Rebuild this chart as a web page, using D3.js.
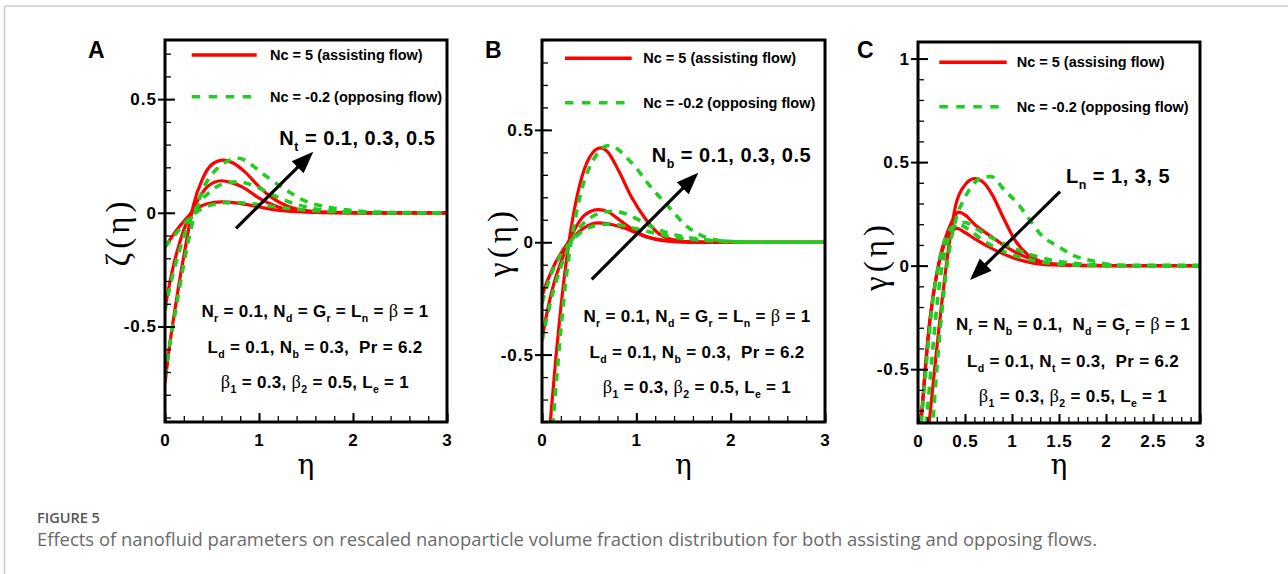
<!DOCTYPE html>
<html>
<head>
  <script src="https://d3js.org/d3.v7.min.js"></script>
  <style>
    body { margin: 0; background: #fff; }
    .tick text { font-family: "Liberation Sans", Arial, sans-serif; font-weight: bold; font-size: 17px; letter-spacing: 1px; fill: #000; }
    .lbl { font-family: "Liberation Sans", Arial, sans-serif; font-weight: bold; fill: #000; white-space: pre; }
    .greek { font-family: "Liberation Serif", "DejaVu Serif", serif; font-weight: normal; }
    .axt { font-family: "DejaVu Serif", "Liberation Serif", serif; font-weight: normal; fill: #000; }
    .ayt { font-family: "Liberation Serif", "DejaVu Serif", serif; font-weight: normal; fill: #000; }
  </style>
</head>
<body>
<div id="chart"></div>
<script>
/*
  DATA: curves, [eta, value]
*/
// panel A, zeta(eta), Nt = 0.1, 0.3, 0.5
const aRed01 = [[0,-0.15],[0.05,-0.12],[0.1,-0.09],[0.15,-0.062],[0.2,-0.038],[0.28,0],[0.35,0.022],[0.45,0.04],[0.6,0.048],[0.75,0.044],[0.9,0.034],[1.05,0.022],[1.2,0.012],[1.4,0.005],[1.7,0.001],[2.2,0],[3,0]];
const aRed03 = [[0,-0.42],[0.05,-0.31],[0.1,-0.215],[0.15,-0.14],[0.2,-0.075],[0.28,0],[0.35,0.055],[0.45,0.115],[0.6,0.141],[0.7,0.134],[0.83,0.112],[1.0,0.065],[1.19,0.028],[1.36,0.01],[1.6,0.002],[2,0],[3,0]];
const aRed05 = [[0,-0.75],[0.05,-0.58],[0.1,-0.44],[0.15,-0.31],[0.2,-0.19],[0.25,-0.075],[0.3,0.03],[0.4,0.15],[0.5,0.213],[0.62,0.232],[0.72,0.22],[0.85,0.18],[1.0,0.115],[1.1,0.078],[1.2,0.05],[1.3,0.03],[1.5,0.01],[1.8,0.002],[2.2,0],[3,0]];
const aGrn01 = [[0,-0.15],[0.1,-0.1],[0.2,-0.05],[0.3,-0.008],[0.4,0.02],[0.5,0.035],[0.65,0.045],[0.8,0.044],[1.0,0.036],[1.3,0.02],[1.6,0.009],[2.0,0.002],[2.5,0],[3,0]];
const aGrn03 = [[0,-0.43],[0.05,-0.33],[0.1,-0.245],[0.2,-0.105],[0.3,-0.005],[0.4,0.06],[0.5,0.1],[0.6,0.125],[0.78,0.136],[0.97,0.115],[1.15,0.078],[1.36,0.042],[1.57,0.02],[1.8,0.008],[2.2,0.001],[3,0]];
const aGrn05 = [[0,-0.72],[0.05,-0.58],[0.1,-0.46],[0.15,-0.34],[0.2,-0.225],[0.3,-0.03],[0.4,0.1],[0.5,0.17],[0.6,0.21],[0.78,0.24],[0.97,0.196],[1.08,0.16],[1.29,0.1],[1.5,0.05],[1.72,0.026],[1.93,0.013],[2.14,0.005],[2.5,0.001],[3,0]];

// panel B, gamma(eta), Nb = 0.1, 0.3, 0.5
const bRed01 = [[0,-0.24],[0.05,-0.18],[0.1,-0.13],[0.15,-0.085],[0.2,-0.05],[0.28,0],[0.35,0.03],[0.45,0.065],[0.6,0.086],[0.75,0.078],[0.88,0.062],[1.0,0.042],[1.1,0.025],[1.3,0.008],[1.5,0.002],[1.8,0],[3,0]];
const bRed03 = [[0,-0.43],[0.05,-0.32],[0.1,-0.225],[0.15,-0.15],[0.2,-0.09],[0.28,0],[0.35,0.06],[0.45,0.12],[0.6,0.145],[0.7,0.135],[0.84,0.093],[1.02,0.041],[1.2,0.013],[1.4,0.003],[1.7,0],[3,0]];
const bRed05 = [[0,-1.25],[0.05,-1.0],[0.1,-0.74],[0.15,-0.5],[0.2,-0.29],[0.25,-0.11],[0.3,0.04],[0.35,0.16],[0.4,0.255],[0.5,0.375],[0.62,0.42],[0.7,0.4],[0.81,0.32],[0.95,0.2],[1.09,0.108],[1.23,0.041],[1.37,0.013],[1.55,0.002],[1.8,0],[3,0]];
const bGrn01 = [[0,-0.27],[0.05,-0.2],[0.1,-0.14],[0.2,-0.055],[0.3,-0.002],[0.4,0.04],[0.5,0.065],[0.65,0.08],[0.8,0.078],[1.0,0.06],[1.2,0.04],[1.4,0.022],[1.6,0.012],[1.9,0.004],[2.3,0],[3,0]];
const bGrn03 = [[0,-0.44],[0.05,-0.34],[0.1,-0.25],[0.2,-0.11],[0.3,-0.005],[0.4,0.065],[0.5,0.105],[0.6,0.128],[0.75,0.138],[0.9,0.125],[1.0,0.105],[1.16,0.07],[1.34,0.04],[1.51,0.024],[1.73,0.011],[1.94,0.004],[2.3,0],[3,0]];
const bGrn05 = [[0,-1.35],[0.05,-1.12],[0.1,-0.88],[0.15,-0.63],[0.2,-0.39],[0.25,-0.18],[0.3,-0.02],[0.35,0.1],[0.4,0.2],[0.5,0.33],[0.58,0.39],[0.7,0.43],[0.8,0.415],[0.9,0.375],[0.98,0.34],[1.12,0.263],[1.25,0.2],[1.37,0.145],[1.51,0.08],[1.66,0.036],[1.8,0.014],[1.94,0.005],[2.2,0],[3,0]];

// panel C, gamma(eta), Ln = 1, 3, 5
const cRed1 = [[0,-1.3],[0.05,-1.1],[0.1,-0.85],[0.125,-0.73],[0.15,-0.62],[0.2,-0.4],[0.25,-0.19],[0.3,0.0],[0.35,0.16],[0.4,0.29],[0.5,0.39],[0.6,0.42],[0.7,0.4],[0.78,0.35],[0.92,0.22],[1.03,0.124],[1.17,0.052],[1.31,0.019],[1.53,0.003],[1.8,0],[3,0]];
const cRed3 = [[0,-0.95],[0.036,-0.73],[0.08,-0.48],[0.124,-0.27],[0.16,-0.15],[0.2,-0.04],[0.25,0.07],[0.32,0.17],[0.38,0.23],[0.43,0.258],[0.5,0.245],[0.6,0.2],[0.78,0.14],[0.96,0.085],[1.14,0.043],[1.31,0.019],[1.5,0.006],[1.8,0.001],[2.1,0],[3,0]];
const cRed5 = [[0,-0.97],[0.036,-0.74],[0.08,-0.49],[0.124,-0.28],[0.16,-0.15],[0.2,-0.04],[0.25,0.06],[0.3,0.125],[0.35,0.163],[0.41,0.18],[0.5,0.16],[0.6,0.13],[0.82,0.075],[1.03,0.035],[1.24,0.011],[1.45,0.003],[1.8,0],[3,0]];
const cGrn1 = [[0,-1.6],[0.07,-1.25],[0.14,-0.85],[0.16,-0.74],[0.2,-0.5],[0.25,-0.24],[0.3,-0.03],[0.35,0.12],[0.4,0.22],[0.5,0.33],[0.6,0.4],[0.7,0.428],[0.78,0.43],[0.92,0.364],[1.06,0.3],[1.19,0.22],[1.31,0.148],[1.49,0.093],[1.66,0.048],[1.88,0.02],[2.05,0.005],[2.3,0],[3,0]];
const cGrn3 = [[0,-1.2],[0.05,-0.95],[0.1,-0.7],[0.15,-0.44],[0.2,-0.2],[0.25,-0.02],[0.3,0.09],[0.35,0.16],[0.42,0.2],[0.5,0.208],[0.6,0.185],[0.7,0.155],[0.83,0.124],[0.94,0.1],[1.15,0.06],[1.3,0.04],[1.5,0.02],[1.8,0.006],[2.1,0.001],[3,0]];
const cGrn5 = [[0,-0.98],[0.05,-0.68],[0.1,-0.42],[0.15,-0.2],[0.2,-0.04],[0.25,0.07],[0.3,0.14],[0.38,0.19],[0.45,0.196],[0.55,0.17],[0.7,0.12],[0.9,0.07],[1.1,0.038],[1.3,0.018],[1.6,0.005],[2.0,0],[3,0]];

// ticks
const yMajorAB = [-0.5, 0, 0.5];
const yMajorC = [-0.5, 0, 0.5, 1];
const xMajorAB = [0, 1, 2, 3];
const xMajorC = [0, 0.5, 1, 1.5, 2, 2.5, 3];

// texts
const legendRed = ["Nc = 5 (assisting flow)", "Nc = 5 (assisting flow)", "Nc = 5 (assising flow)"];
const legendGrn = "Nc = -0.2 (opposing flow)";
const paramsAB = ["N_{r} = 0.1, N_{d} = G_{r} = L_{n} = β = 1", "L_{d} = 0.1, N_{b} = 0.3,  Pr = 6.2", "β_{1} = 0.3, β_{2} = 0.5, L_{e} = 1"];
const paramsC = ["N_{r} = N_{b} = 0.1,  N_{d} = G_{r} = β = 1", "L_{d} = 0.1, N_{t} = 0.3,  Pr = 6.2", "β_{1} = 0.3, β_{2} = 0.5, L_{e} = 1"];

const RED = "#ff0000", GREEN = "#22cc22";

/*
  SVG
*/
const width = 1288, height = 574;
const svg = d3.select("#chart").append("svg")
  .attr("width", width).attr("height", height);

// page frame
svg.append("line").attr("x1", 4.5).attr("x2", width).attr("y1", 6).attr("y2", 6)
  .attr("stroke", "#cccccc").attr("stroke-width", 1.5);
svg.append("line").attr("x1", 4.5).attr("x2", 4.5).attr("y1", 6).attr("y2", height)
  .attr("stroke", "#cccccc").attr("stroke-width", 1.5);

// text with _{sub} and greek beta
function richText(sel, str, size) {
  const parts = str.split(/(_\{[^}]*\}|β)/).filter(s => s.length);
  let shifted = false;
  parts.forEach(p => {
    const t = sel.append("tspan");
    if (p.startsWith("_{")) {
      t.text(p.slice(2, -1)).attr("font-size", size * 0.62).attr("dy", size * 0.3);
      shifted = true;
    } else {
      if (shifted) { t.attr("dy", -size * 0.3); shifted = false; }
      t.text(p);
      if (p === "β") t.attr("class", "greek").attr("font-size", size * 1.08);
    }
  });
}

function arrow(g, x1, y1, x2, y2) {
  const dx = x2 - x1, dy = y2 - y1, L = Math.hypot(dx, dy);
  const ux = dx / L, uy = dy / L, hl = 22, hw = 8.5;
  const bx = x2 - ux * hl, by = y2 - uy * hl;
  g.append("line").attr("x1", x1).attr("y1", y1).attr("x2", bx + ux * 2).attr("y2", by + uy * 2)
    .attr("stroke", "#000").attr("stroke-width", 3.2);
  g.append("path")
    .attr("d", `M${x2},${y2}L${bx - uy * hw},${by + ux * hw}L${bx + uy * hw},${by - ux * hw}Z`)
    .attr("fill", "#000");
}

const panels = [
  {id: "A", left: 165, right: 447, top: 40, bottom: 422, yDomain: [-0.92, 0.76],
   yMajor: yMajorAB, yMinor: d3.range(-9, 8).map(i => i / 10),
   xMajor: xMajorAB, xMinor: d3.range(0, 16).map(i => i / 5),
   red: [aRed01, aRed03, aRed05], green: [aGrn01, aGrn03, aGrn05],
   letter: [88, 58], yLabel: "ζ(η)", yLabelPos: [119, 232],
   legX: [191.7, 256.7, 270], legY: [55, 96.7], legRed: legendRed[0],
   tag: "N_{t} = 0.1, 0.3, 0.5", tagPos: [279.3, 145],
   arrow: [236, 228.3, 313.3, 151.7],
   params: paramsAB, paramX: 315, paramY: [316.7, 353.3, 388.3]},
  {id: "B", left: 542, right: 825, top: 40, bottom: 422, yDomain: [-0.8, 0.9],
   yMajor: yMajorAB, yMinor: d3.range(-8, 10).map(i => i / 10),
   xMajor: xMajorAB, xMinor: d3.range(0, 16).map(i => i / 5),
   red: [bRed01, bRed03, bRed05], green: [bGrn01, bGrn03, bGrn05],
   letter: [485, 58], yLabel: "γ(η)", yLabelPos: [501, 242],
   legX: [565, 631.7, 643.3], legY: [58.3, 102.7], legRed: legendRed[1],
   tag: "N_{b} = 0.1, 0.3, 0.5", tagPos: [651.7, 161.7],
   arrow: [591.7, 279.3, 698.3, 172.7],
   params: paramsAB, paramX: 697, paramY: [321.7, 358.3, 393.3]},
  {id: "C", left: 918, right: 1200, top: 42, bottom: 423, yDomain: [-0.76, 1.08],
   yMajor: yMajorC, yMinor: d3.range(-7, 11).map(i => i / 10),
   xMajor: xMajorC, xMinor: d3.range(0, 31).map(i => i / 10),
   red: [cRed1, cRed3, cRed5], green: [cGrn1, cGrn3, cGrn5],
   letter: [857, 58], yLabel: "γ(η)", yLabelPos: [877, 256],
   legX: [939.3, 1006.7, 1016.7], legY: [62.3, 106.7], legRed: legendRed[2],
   tag: "L_{n} = 1, 3, 5", tagPos: [1066, 182.7],
   arrow: [1060, 191.7, 970, 280],
   params: paramsC, paramX: 1073, paramY: [330, 366.7, 401.7]}
];

panels.forEach(p => {
  const g = svg.append("g");
  const xScale = d3.scaleLinear().domain([0, 3]).range([p.left, p.right]);
  const yScale = d3.scaleLinear().domain(p.yDomain).range([p.bottom, p.top]);

  g.append("clipPath").attr("id", "clip" + p.id).append("rect")
    .attr("x", p.left).attr("y", p.top)
    .attr("width", p.right - p.left).attr("height", p.bottom - p.top);

  const line = d3.line()
    .x(d => xScale(d[0])).y(d => yScale(d[1]))
    .curve(d3.curveMonotoneX);

  const curves = g.append("g").attr("clip-path", `url(#clip${p.id})`);
  p.red.forEach(s => curves.append("path").attr("d", line(s))
    .attr("fill", "none").attr("stroke", RED).attr("stroke-width", 3.2));
  p.green.forEach(s => curves.append("path").attr("d", line(s))
    .attr("fill", "none").attr("stroke", GREEN).attr("stroke-width", 3.6)
    .attr("stroke-dasharray", "8,7"));

  // minor ticks (inward)
  g.append("g").attr("transform", `translate(${p.left},0)`)
    .call(d3.axisLeft(yScale).tickValues(p.yMinor).tickSize(-6).tickFormat(""))
    .call(a => a.select(".domain").remove())
    .selectAll("line").attr("stroke-width", 1.3);
  g.append("g").attr("transform", `translate(0,${p.bottom})`)
    .call(d3.axisBottom(xScale).tickValues(p.xMinor).tickSize(-6).tickFormat(""))
    .call(a => a.select(".domain").remove())
    .selectAll("line").attr("stroke-width", 1.3);

  // major ticks with labels
  g.append("g").attr("transform", `translate(${p.left},0)`)
    .call(d3.axisLeft(yScale).tickValues(p.yMajor).tickSize(-10).tickPadding(8).tickFormat(d => String(d)))
    .call(a => a.select(".domain").remove())
    .call(a => a.selectAll(".tick line").attr("x1", -7).attr("stroke-width", 2));
  g.append("g").attr("transform", `translate(0,${p.bottom})`)
    .call(d3.axisBottom(xScale).tickValues(p.xMajor).tickSize(-9).tickPadding(12).tickFormat(d => String(d)))
    .call(a => a.select(".domain").remove())
    .call(a => a.selectAll(".tick line").attr("stroke-width", 2));

  // box
  g.append("rect").attr("x", p.left).attr("y", p.top)
    .attr("width", p.right - p.left).attr("height", p.bottom - p.top)
    .attr("fill", "none").attr("stroke", "#000").attr("stroke-width", 3);

  // panel letter
  g.append("text").attr("class", "lbl").attr("x", p.letter[0]).attr("y", p.letter[1])
    .attr("font-size", 23).text(p.id);

  // axis titles
  g.append("text").attr("class", "ayt")
    .attr("transform", `translate(${p.yLabelPos[0]},${p.yLabelPos[1]}) rotate(-90)`)
    .attr("text-anchor", "middle").attr("dy", "0.3em")
    .attr("font-size", 33).attr("letter-spacing", 4).text(p.yLabel);
  g.append("text").attr("class", "axt")
    .attr("x", (p.left + p.right) / 2).attr("y", 474)
    .attr("text-anchor", "middle").attr("font-size", 28).text("η");

  // legend
  g.append("line").attr("x1", p.legX[0]).attr("x2", p.legX[1]).attr("y1", p.legY[0]).attr("y2", p.legY[0])
    .attr("stroke", RED).attr("stroke-width", 3.4);
  g.append("line").attr("x1", p.legX[0]).attr("x2", p.legX[1]).attr("y1", p.legY[1]).attr("y2", p.legY[1])
    .attr("stroke", GREEN).attr("stroke-width", 3.4).attr("stroke-dasharray", "8.5,8.5");
  g.append("text").attr("class", "lbl").attr("x", p.legX[2]).attr("y", p.legY[0] + 5)
    .attr("font-size", 14.5).text(p.legRed);
  g.append("text").attr("class", "lbl").attr("x", p.legX[2]).attr("y", p.legY[1] + 5)
    .attr("font-size", 14.5).text(legendGrn);

  // parameter tag and arrow
  richText(g.append("text").attr("class", "lbl").attr("x", p.tagPos[0]).attr("y", p.tagPos[1])
    .attr("font-size", 20).attr("letter-spacing", 0.5), p.tag, 20);
  arrow(g, ...p.arrow);

  // fixed parameters
  p.params.forEach((s, i) => {
    richText(g.append("text").attr("class", "lbl").attr("x", p.paramX).attr("y", p.paramY[i])
      .attr("text-anchor", "middle").attr("font-size", 17).attr("letter-spacing", 0.3), s, 17);
  });
});

// caption
function fitText(t, target) {
  const w = t.node().getComputedTextLength();
  const fs = parseFloat(t.attr("font-size"));
  t.attr("font-size", fs * target / w);
}
const cap1 = svg.append("text").attr("x", 37).attr("y", 523)
  .attr("font-family", "Open Sans, Noto Sans, sans-serif").attr("font-weight", 600)
  .attr("font-size", 14).attr("fill", "#555").text("FIGURE 5");
fitText(cap1, 63);
const cap2 = svg.append("text").attr("x", 37).attr("y", 546)
  .attr("font-family", "Open Sans, Noto Sans, sans-serif")
  .attr("font-size", 14).attr("fill", "#6a6a6a")
  .text("Effects of nanofluid parameters on rescaled nanoparticle volume fraction distribution for both assisting and opposing flows.");
fitText(cap2, 1061);
</script>
</body>
</html>
